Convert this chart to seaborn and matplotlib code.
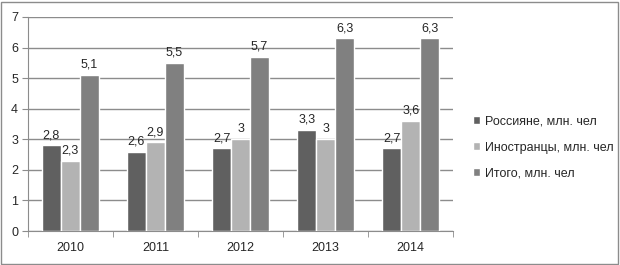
import matplotlib
matplotlib.use("Agg")
import matplotlib.pyplot as plt
import seaborn as sns
import pandas as pd

years = ["2010", "2011", "2012", "2013", "2014"]
series_names = ["Россияне, млн. чел", "Иностранцы, млн. чел", "Итого, млн. чел"]
russians = [2.8, 2.6, 2.7, 3.3, 2.7]
foreigners = [2.3, 2.9, 3.0, 3.0, 3.6]
total = [5.1, 5.5, 5.7, 6.3, 6.3]
colors = ["#606060", "#b3b3b3", "#808080"]

rows = []
for name, vals in zip(series_names, [russians, foreigners, total]):
    for y, v in zip(years, vals):
        rows.append({"year": y, "series": name, "value": v})
df = pd.DataFrame(rows)

sns.set_style("white")
plt.rcParams["font.family"] = ["Liberation Sans", "DejaVu Sans"]

fig = plt.figure(figsize=(6.2, 2.65), dpi=100)
ax = fig.add_axes([0.045, 0.128, 0.686, 0.808])

sns.barplot(data=df, x="year", y="value", hue="series", palette=colors,
            width=0.67, ax=ax, saturation=1, legend=True, zorder=3)

ax.set_ylim(0, 7)
ax.set_yticks(range(0, 8))
ax.grid(axis="y", color="#8c8c8c", linewidth=1, zorder=0)
ax.set_axisbelow(True)
ax.set_xlabel("")
ax.set_ylabel("")
for s in ["top", "right"]:
    ax.spines[s].set_visible(False)
ax.spines["left"].set_color("#8c8c8c")
ax.spines["bottom"].set_color("#8c8c8c")
ax.tick_params(axis="y", length=4, color="#8c8c8c", labelsize=9, pad=3, left=True)
ax.tick_params(axis="x", length=0, labelsize=9, pad=8)
# category boundary ticks
ax.set_xticks([i - 0.5 for i in range(6)], minor=True)
ax.tick_params(axis="x", which="minor", length=4, color="#8c8c8c", bottom=True)
ax.set_xlim(-0.5, 4.5)

for cont in ax.containers:
    labels = [("%g" % b.get_height()).replace(".", ",") for b in cont]
    ax.bar_label(cont, labels=labels, padding=3, fontsize=9)

handles, labels = ax.get_legend_handles_labels()
ax.legend(handles, labels, loc="center left", bbox_to_anchor=(1.02, 0.39),
          frameon=False, fontsize=9, handlelength=0.6, handleheight=0.6,
          handletextpad=0.4, labelspacing=1.1)

fig.patches.append(plt.Rectangle((0.002, 0.004), 0.995, 0.99, transform=fig.transFigure,
                                 fill=False, edgecolor="#8c8c8c", linewidth=1))

fig.savefig("out.png", dpi=100)
